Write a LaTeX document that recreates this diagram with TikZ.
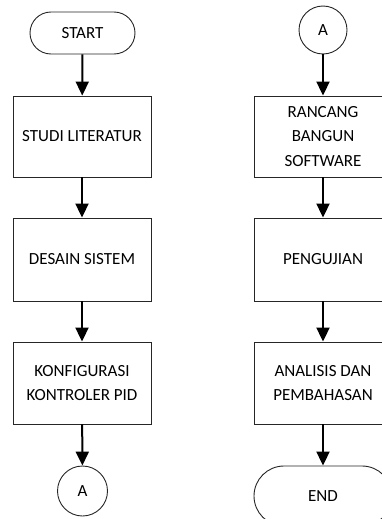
\documentclass[tikz,border=0pt]{standalone}
\usepackage{fontspec}
\setmainfont{Carlito}
\usepackage{tikz}
\usetikzlibrary{arrows.meta, positioning}

\begin{document}
\begin{tikzpicture}[x=1pt, y=-1pt,
		font=\fontsize{17}{24.5}\selectfont,
		prosesbox/.style={draw=black!85, line width=0.9pt, rectangle, minimum width=138pt, inner sep=0pt, align=center},
		terminal/.style={draw=black!85, line width=0.9pt, rectangle, inner sep=0pt},
		konektor/.style={draw=black!85, line width=0.9pt, circle, inner sep=0pt},
		alur/.style={line width=2pt, -{Triangle[length=14pt, width=13pt]}}]
			% Clip to page area
			\clip (0,0) rectangle (382,519);

			% Left column
			\node[terminal, minimum width=105pt, minimum height=42pt, rounded corners=21pt] (start) at (82.5,33) {START};
			\node[prosesbox, minimum height=81pt] (studi) at (82,136.5) {STUDI LITERATUR};
			\node[prosesbox, minimum height=83pt] (desain) at (82,259.5) {DESAIN SISTEM};
			\node[prosesbox, minimum height=82pt] (konfig) at (82,383) {KONFIGURASI\\KONTROLER PID};
			\node[konektor, minimum size=50pt] (konA) at (82.5,491) {A};

			% Right column
			\node[konektor, minimum size=48pt] (konB) at (323,30) {A};
			\node[prosesbox, minimum height=81pt] (rancang) at (323,136.5) {RANCANG\\BANGUN\\SOFTWARE};
			\node[prosesbox, minimum height=83pt] (uji) at (323,259.5) {PENGUJIAN};
			\node[prosesbox, minimum height=82pt] (analisis) at (323,383) {ANALISIS DAN\\PEMBAHASAN};
			\node[terminal, minimum width=138pt, minimum height=60pt, rounded corners=30pt] (end) at (323,496) {END};

			% Draw Arrows
			\draw[alur] (start) -- (studi);
			\draw[alur] (studi) -- (desain);
			\draw[alur] (desain) -- (konfig);
			\draw[alur] (konfig) -- (konA);
			\draw[alur] (konB) -- (rancang);
			\draw[alur] (rancang) -- (uji);
			\draw[alur] (uji) -- (analisis);
			\draw[alur] (analisis) -- (end);

		\end{tikzpicture}
\end{document}
